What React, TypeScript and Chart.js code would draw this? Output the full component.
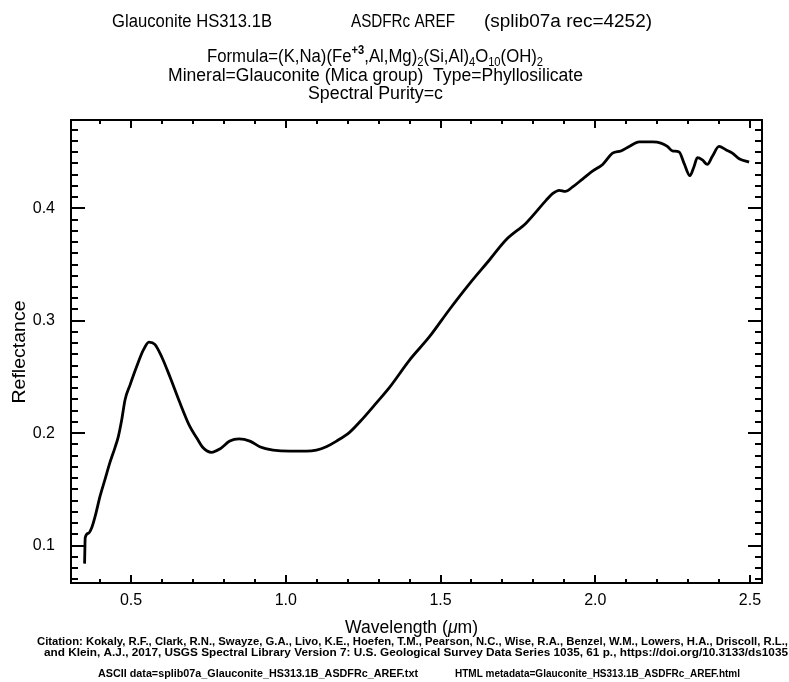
import React, { useEffect, useRef } from "react";
import { Chart, registerables } from "chart.js";

Chart.register(...registerables);

// Glauconite HS313.1B reflectance spectrum (ASD, splib07a)
const wavelengths = [
  0.350, 0.352, 0.362, 0.373, 0.384, 0.400, 0.416, 0.432, 0.448, 0.459,
  0.470, 0.481, 0.497, 0.518, 0.540, 0.558, 0.577, 0.599, 0.626, 0.658,
  0.690, 0.712, 0.733, 0.760, 0.787, 0.819, 0.849, 0.884, 0.916, 0.959,
  1.013, 1.067, 1.099, 1.131, 1.164, 1.207, 1.249, 1.293, 1.336, 1.400,
  1.465, 1.529, 1.594, 1.658, 1.712, 1.777, 1.841, 1.862, 1.884, 1.903,
  1.927, 1.959, 1.991, 2.024, 2.056, 2.083, 2.110, 2.142, 2.185, 2.212,
  2.233, 2.249, 2.271, 2.287, 2.306, 2.319, 2.330, 2.346, 2.362, 2.378,
  2.400, 2.422, 2.443, 2.465, 2.497,
];
const reflectance = [
  0.084, 0.107, 0.111, 0.116, 0.126, 0.144, 0.159, 0.174, 0.187, 0.197,
  0.212, 0.230, 0.243, 0.259, 0.274, 0.281, 0.279, 0.268, 0.250, 0.227,
  0.206, 0.196, 0.187, 0.183, 0.186, 0.193, 0.195, 0.193, 0.188, 0.185,
  0.184, 0.184, 0.185, 0.188, 0.193, 0.201, 0.213, 0.227, 0.241, 0.265,
  0.286, 0.310, 0.333, 0.354, 0.372, 0.387, 0.407, 0.413, 0.416, 0.415,
  0.419, 0.426, 0.433, 0.439, 0.449, 0.451, 0.455, 0.459, 0.459, 0.458,
  0.455, 0.451, 0.450, 0.440, 0.429, 0.437, 0.445, 0.443, 0.439, 0.446,
  0.455, 0.452, 0.449, 0.444, 0.441,
];

// Axis ranges and ticks
const X_MIN = 0.3061;
const X_MAX = 2.5388;
const Y_MIN = 0.0668;
const Y_MAX = 0.4785;
const xMajorTicks = [0.5, 1.0, 1.5, 2.0, 2.5];
const xTickLabels = ["0.5", "1.0", "1.5", "2.0", "2.5"];
const xMinorTicks = [
  0.4, 0.6, 0.7, 0.8, 0.9, 1.1, 1.2, 1.3, 1.4, 1.6, 1.7, 1.8, 1.9,
  2.1, 2.2, 2.3, 2.4,
];
const yMajorTicks = [0.1, 0.2, 0.3, 0.4];
const yTickLabels = ["0.1", "0.2", "0.3", "0.4"];
const yMinorTicks = [
  0.07, 0.08, 0.09, 0.11, 0.12, 0.13, 0.14, 0.15, 0.16, 0.17, 0.18, 0.19,
  0.21, 0.22, 0.23, 0.24, 0.25, 0.26, 0.27, 0.28, 0.29, 0.31, 0.32, 0.33,
  0.34, 0.35, 0.36, 0.37, 0.38, 0.39, 0.41, 0.42, 0.43, 0.44, 0.45, 0.46,
  0.47,
];

// Text
const titleParts = ["Glauconite HS313.1B", "ASDFRc AREF", "(splib07a rec=4252)"];
const mineralLine = "Mineral=Glauconite (Mica group)  Type=Phyllosilicate";
const purityLine = "Spectral Purity=c";
const xAxisTitle = ["Wavelength (", "\u03bc", "m)"];
const yAxisTitle = "Reflectance";
const citation1 =
  "Citation: Kokaly, R.F., Clark, R.N., Swayze, G.A., Livo, K.E., Hoefen, T.M., Pearson, N.C., Wise, R.A., Benzel, W.M., Lowers, H.A., Driscoll, R.L.,";
const citation2 =
  "and Klein, A.J., 2017, USGS Spectral Library Version 7: U.S. Geological Survey Data Series 1035, 61 p., https://doi.org/10.3133/ds1035";
const asciiLine = "ASCII data=splib07a_Glauconite_HS313.1B_ASDFRc_AREF.txt";
const htmlLine = "HTML metadata=Glauconite_HS313.1B_ASDFRc_AREF.html";

const FONT = '"Liberation Sans", Arial, sans-serif';

type Seg = { t: string; sub?: boolean; sup?: boolean; italic?: boolean; bold?: boolean };

const formulaSegs: Seg[] = [
  { t: "Formula=(K,Na)(Fe" },
  { t: "+3", sup: true },
  { t: ",Al,Mg)" },
  { t: "2", sub: true },
  { t: "(Si,Al)" },
  { t: "4", sub: true },
  { t: "O" },
  { t: "10", sub: true },
  { t: "(OH)" },
  { t: "2", sub: true },
];

function segFont(s: Seg, size: number) {
  const sz = s.sub || s.sup ? Math.round(size * 0.68) : size;
  const weight = s.sup || s.bold ? "bold " : "";
  return `${s.italic ? "italic " : ""}${weight}${sz}px ${FONT}`;
}

// Draws a run of text segments stretched to a given width
function drawSegs(
  ctx: CanvasRenderingContext2D,
  segs: Seg[],
  size: number,
  x: number,
  y: number,
  width: number | null,
  align: "left" | "center"
) {
  let total = 0;
  const widths = segs.map((s) => {
    ctx.font = segFont(s, size);
    const w = ctx.measureText(s.t).width;
    total += w;
    return w;
  });
  const k = width ? width / total : 1;
  const drawnW = total * k;
  const x0 = align === "center" ? x - drawnW / 2 : x;
  ctx.save();
  ctx.translate(x0, y);
  ctx.scale(k, 1);
  ctx.textAlign = "left";
  ctx.textBaseline = "alphabetic";
  let cx = 0;
  segs.forEach((s, i) => {
    ctx.font = segFont(s, size);
    const dy = s.sub ? size * 0.22 : s.sup ? -size * 0.42 : 0;
    ctx.fillText(s.t, cx, dy);
    cx += widths[i];
  });
  ctx.restore();
}

const textPlugin = {
  id: "spectrumText",
  beforeDraw(chart: Chart) {
    const ctx = chart.ctx;
    ctx.save();
    ctx.fillStyle = "#ffffff";
    ctx.fillRect(0, 0, chart.width, chart.height);
    ctx.restore();
  },
  afterDraw(chart: Chart) {
    const ctx = chart.ctx;
    ctx.save();
    ctx.fillStyle = "#000000";
    const T = 18;
    // header
    drawSegs(ctx, [{ t: titleParts[0] }], T, 112, 27, 160, "left");
    drawSegs(ctx, [{ t: titleParts[1] }], T, 351, 27, 104, "left");
    drawSegs(ctx, [{ t: titleParts[2] }], T, 484, 27, 168, "left");
    drawSegs(ctx, formulaSegs, T, 207, 62, 336, "left");
    drawSegs(ctx, [{ t: mineralLine }], T, 168, 81, 415, "left");
    drawSegs(ctx, [{ t: purityLine }], T, 308, 99, 135, "left");

    // axis titles
    drawSegs(
      ctx,
      [{ t: xAxisTitle[0] }, { t: xAxisTitle[1], italic: true }, { t: xAxisTitle[2] }],
      T,
      345,
      633,
      133,
      "left"
    );
    ctx.save();
    ctx.translate(25, 352);
    ctx.rotate(-Math.PI / 2);
    drawSegs(ctx, [{ t: yAxisTitle }], T, 0, 0, 103, "center");
    ctx.restore();

    // citation footer, condensed bold
    const F = 11;
    drawSegs(ctx, [{ t: citation1, bold: true }], F, 37, 645, 751, "left");
    drawSegs(ctx, [{ t: citation2, bold: true }], F, 44, 656, 744, "left");
    drawSegs(ctx, [{ t: asciiLine, bold: true }], F, 98, 677, 320, "left");
    drawSegs(ctx, [{ t: htmlLine, bold: true }], F, 455, 677, 285, "left");

    // frame and inward ticks on all four sides
    const a = chart.chartArea;
    const xs = chart.scales.x;
    const ys = chart.scales.y;
    ctx.strokeStyle = "#000000";
    ctx.lineWidth = 2;
    ctx.beginPath();
    const tickX = (v: number, len: number) => {
      const px = Math.round(xs.getPixelForValue(v));
      ctx.moveTo(px, a.bottom);
      ctx.lineTo(px, a.bottom - len);
      ctx.moveTo(px, a.top);
      ctx.lineTo(px, a.top + len);
    };
    const tickY = (v: number, len: number) => {
      const py = Math.round(ys.getPixelForValue(v));
      ctx.moveTo(a.left, py);
      ctx.lineTo(a.left + len, py);
      ctx.moveTo(a.right, py);
      ctx.lineTo(a.right - len, py);
    };
    xMajorTicks.forEach((v) => tickX(v, 8));
    xMinorTicks.forEach((v) => tickX(v, 4));
    yMajorTicks.forEach((v) => tickY(v, 14));
    yMinorTicks.forEach((v) => tickY(v, 7));
    ctx.stroke();
    ctx.strokeRect(a.left, a.top, a.right - a.left, a.bottom - a.top);
    ctx.restore();
  },
};

export default function App() {
  const canvasRef = useRef<HTMLCanvasElement | null>(null);

  useEffect(() => {
    const canvas = canvasRef.current;
    if (!canvas) return;
    const chart = new Chart(canvas, {
      type: "line",
      data: {
        datasets: [
          {
            data: wavelengths.map((w, i) => ({ x: w, y: reflectance[i] })),
            borderColor: "#000000",
            borderWidth: 2.8,
            pointRadius: 0,
            cubicInterpolationMode: "monotone",
            fill: false,
          },
        ],
      },
      options: {
        animation: false,
        responsive: false,
        devicePixelRatio: 1,
        layout: { padding: { left: 0, right: 27, top: 120, bottom: 0 } },
        plugins: {
          legend: { display: false },
          tooltip: { enabled: false },
          title: { display: false },
        },
        scales: {
          x: {
            type: "linear",
            min: X_MIN,
            max: X_MAX,
            grid: { display: false, drawTicks: false },
            border: { display: false },
            afterBuildTicks: (s: any) => {
              s.ticks = xMajorTicks.map((v) => ({ value: v }));
            },
            afterFit: (s: any) => {
              s.height = 99;
            },
            ticks: {
              color: "#000000",
              font: { family: FONT, size: 16 },
              padding: 8,
              maxRotation: 0,
              autoSkip: false,
              callback: (v: any) => xTickLabels[xMajorTicks.indexOf(Number(v))] ?? "",
            },
          },
          y: {
            type: "linear",
            min: Y_MIN,
            max: Y_MAX,
            grid: { display: false, drawTicks: false },
            border: { display: false },
            afterBuildTicks: (s: any) => {
              s.ticks = yMajorTicks.map((v) => ({ value: v }));
            },
            afterFit: (s: any) => {
              s.width = 71;
            },
            ticks: {
              color: "#000000",
              font: { family: FONT, size: 16 },
              padding: 16,
              autoSkip: false,
              callback: (v: any) => yTickLabels[yMajorTicks.indexOf(Number(v))] ?? "",
            },
          },
        },
      },
      plugins: [textPlugin],
    });
    return () => chart.destroy();
  }, []);

  return (
    <div style={{ position: "fixed", left: 0, top: 0, width: 789, height: 682, background: "#fff" }}>
      <canvas ref={canvasRef} width={789} height={682} style={{ display: "block" }} />
    </div>
  );
}
